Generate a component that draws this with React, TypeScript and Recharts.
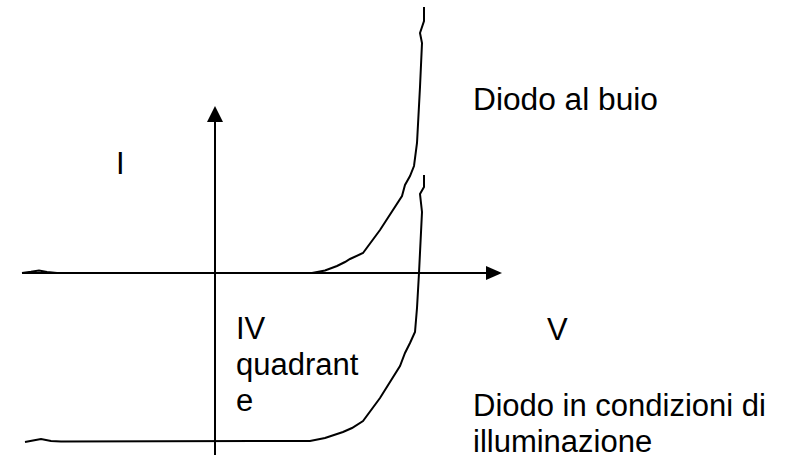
import React from "react";
import { LineChart, Line, XAxis, YAxis, ReferenceLine, ReferenceDot } from "recharts";

// Curva I-V del diodo al buio (V, I in unità arbitrarie)
const darkV = [-1.93, -1.84, -1.76, -1.68, -1.58, 0.97, 1.10, 1.22, 1.30, 1.35, 1.48, 1.65, 1.87, 1.90, 1.95, 1.99, 2.02, 2.05, 2.07, 2.05, 2.09, 2.09];
const darkI = [0, 0.012, 0.025, 0.01, 0, 0, 0.025, 0.07, 0.11, 0.14, 0.20, 0.43, 0.77, 0.88, 0.97, 1.07, 1.30, 1.86, 2.30, 2.40, 2.52, 2.66];

// Curva I-V del diodo illuminato
const lightV = [-1.90, -1.82, -1.74, -1.64, -1.54, 0.95, 1.10, 1.28, 1.37, 1.48, 1.65, 1.85, 1.90, 1.95, 2.00, 2.02, 2.04, 2.07, 2.05, 2.09, 2.09];
const lightI = [-1.69, -1.675, -1.66, -1.68, -1.685, -1.68, -1.65, -1.59, -1.55, -1.48, -1.25, -0.93, -0.80, -0.70, -0.59, -0.35, 0.0, 0.61, 0.79, 0.86, 0.98];

// Assi
const axisVStart = -1.93;
const axisVEnd = 2.87;
const axisIStart = -1.82;
const axisIEnd = 1.67;

// Etichette
const labelTexts = ["I", "Diodo al buio", "IV", "quadrant", "e", "V", "Diodo in condizioni di", "illuminazione"];
const labelV = [-0.99, 2.58, 0.21, 0.21, 0.21, 3.32, 2.58, 2.58];
const labelI = [0.99, 1.63, -0.66, -1.02, -1.38, -0.67, -1.43, -1.79];

const darkData = darkV.map((v, k) => ({ v, i: darkI[k] }));
const lightData = lightV.map((v, k) => ({ v, i: lightI[k] }));
const labels = labelTexts.map((t, k) => ({ t, v: labelV[k], i: labelI[k] }));

const FONT = "'Liberation Sans', Arial, Helvetica, sans-serif";

export default function App() {
  return (
    <div style={{ position: "absolute", left: 0, top: 0, width: 798, height: 476, background: "#fff" }}>
      <LineChart width={798} height={476} margin={{ top: 0, right: 0, bottom: 0, left: 0 }}>
        <XAxis type="number" dataKey="v" domain={[-2.15, 5.83]} hide allowDataOverflow />
        <YAxis type="number" dataKey="i" domain={[-2.03, 2.73]} hide allowDataOverflow />
        <ReferenceLine
          segment={[{ x: axisVStart, y: 0 }, { x: axisVEnd - 0.12, y: 0 }]}
          stroke="#000"
          strokeWidth={2}
        />
        <ReferenceLine
          segment={[{ x: 0, y: axisIStart }, { x: 0, y: axisIEnd - 0.12 }]}
          stroke="#000"
          strokeWidth={2}
        />
        <ReferenceDot
          x={axisVEnd}
          y={0}
          r={1}
          shape={(p: any) => (
            <polygon points={`${p.cx},${p.cy} ${p.cx - 16},${p.cy - 7} ${p.cx - 16},${p.cy + 7}`} fill="#000" />
          )}
        />
        <ReferenceDot
          x={0}
          y={axisIEnd}
          r={1}
          shape={(p: any) => (
            <polygon points={`${p.cx},${p.cy} ${p.cx - 8},${p.cy + 16} ${p.cx + 8},${p.cy + 16}`} fill="#000" />
          )}
        />
        <Line data={darkData} dataKey="i" type="linear" stroke="#000" strokeWidth={2} dot={false} activeDot={false} isAnimationActive={false} />
        <Line data={lightData} dataKey="i" type="linear" stroke="#000" strokeWidth={2} dot={false} activeDot={false} isAnimationActive={false} />
        {labels.map((l) => (
          <ReferenceDot
            key={l.t}
            x={l.v}
            y={l.i}
            r={1}
            shape={(p: any) => (
              <text
                x={p.cx}
                y={p.cy}
                fill="#000"
                fontSize={31}
                fontFamily={FONT}
                textAnchor="start"
                {...(l.t === "Diodo al buio" ? { textLength: 185, lengthAdjust: "spacingAndGlyphs" } : {})}
              >
                {l.t}
              </text>
            )}
          />
        ))}
      </LineChart>
    </div>
  );
}
